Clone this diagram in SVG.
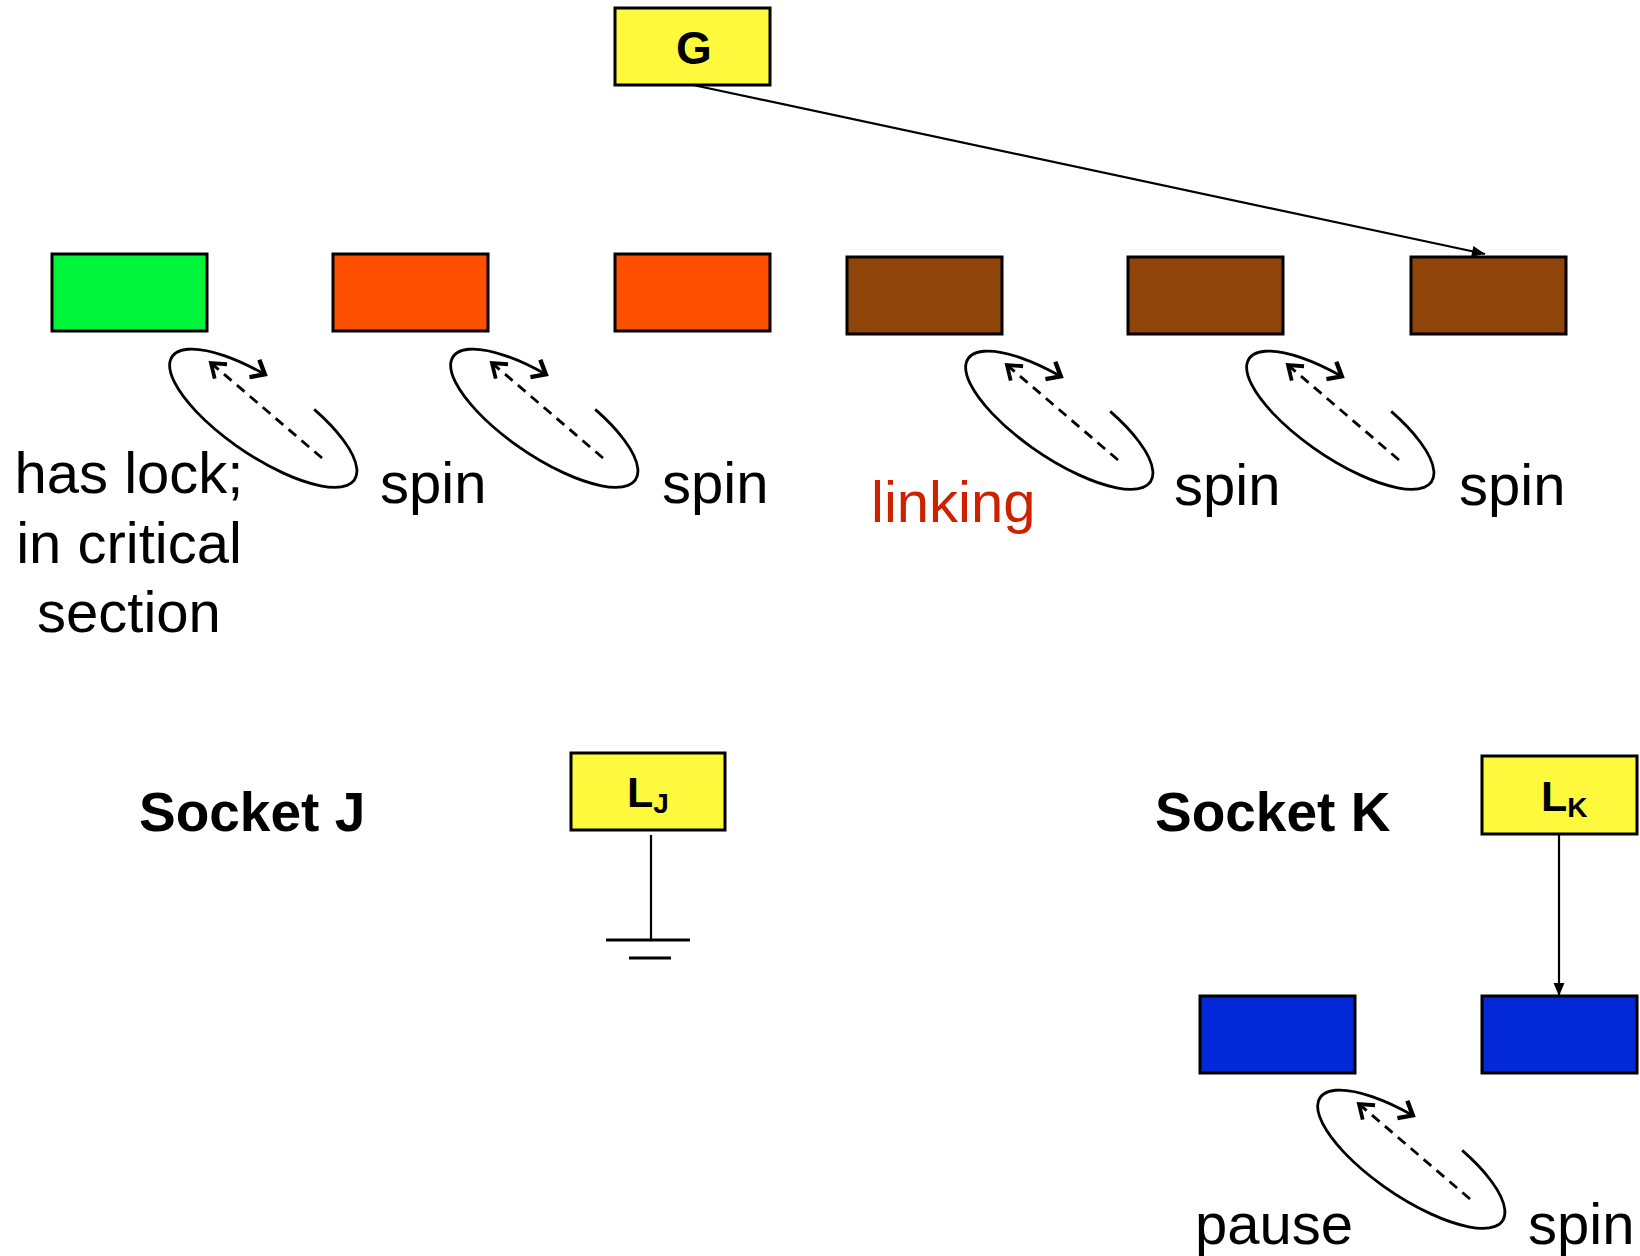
<svg xmlns="http://www.w3.org/2000/svg" width="1640" height="1256" viewBox="0 0 1640 1256">
<style>
.box{stroke:#000;stroke-width:3}
.yellow{fill:#fff93d}
.green{fill:#00f53a}
.orange{fill:#ff4f00}
.brown{fill:#8f450a}
.blue{fill:#0228d8}
.lbl{font-family:"Liberation Sans",Arial,sans-serif;font-size:58px;fill:#000}
.bold{font-family:"Liberation Sans",Arial,sans-serif;font-weight:bold;fill:#000}
.conn{stroke:#000;stroke-width:2.2;fill:none}
.loop{stroke:#000;stroke-width:2.8;fill:none}
.dash{stroke:#000;stroke-width:2.8;stroke-dasharray:10 7;fill:none}
</style>
<defs>
<marker id="tri" markerUnits="userSpaceOnUse" markerWidth="16" markerHeight="12" viewBox="-13 -6 14 12" refX="0" refY="0" orient="auto">
<path d="M-13,-5.5 L0,0 L-13,5.5 Z" fill="#000"/>
</marker>
<marker id="chev" markerUnits="userSpaceOnUse" markerWidth="26" markerHeight="26" viewBox="-17 -13 21 26" refX="0" refY="0" orient="auto">
<path d="M-12,-10 L0,0 L-12,10" fill="none" stroke="#000" stroke-width="4.4" stroke-linejoin="miter"/>
</marker>
<marker id="chevs" markerUnits="userSpaceOnUse" markerWidth="26" markerHeight="26" viewBox="-17 -13 21 26" refX="0" refY="0" orient="auto">
<path d="M-13,-9.5 L0,0 L-13,9.5" fill="none" stroke="#000" stroke-width="3.8" stroke-linejoin="miter"/>
</marker>
<g id="spinloop">
<path class="loop" d="M314.2,409.4 A110,38 34 1 1 264.8,374.4" marker-end="url(#chev)"/>
<path class="dash" d="M322,458 L211,363" marker-end="url(#chevs)"/>
</g>
</defs>

<g id="connectors">
<line class="conn" x1="693" y1="85" x2="1485" y2="254" marker-end="url(#tri)"/>
<line class="conn" x1="1559" y1="834" x2="1559" y2="996" marker-end="url(#tri)"/>
<line class="conn" x1="651" y1="835" x2="651" y2="940"/>
<line x1="606" y1="940" x2="690" y2="940" stroke="#000" stroke-width="3"/>
<line x1="629" y1="958" x2="671" y2="958" stroke="#000" stroke-width="3"/>
</g>

<g id="loops">
<use href="#spinloop"/>
<use href="#spinloop" transform="translate(281,0)"/>
<use href="#spinloop" transform="translate(796,2)"/>
<use href="#spinloop" transform="translate(1077,2)"/>
<use href="#spinloop" transform="translate(1148,741)"/>
</g>

<g id="node-G">
<rect class="box yellow" x="615" y="8" width="155" height="77"/>
<text class="bold" x="694" y="64" font-size="46" text-anchor="middle">G</text>
</g>
<g id="node-green"><rect class="box green" x="52" y="254" width="155" height="77"/></g>
<g id="node-orange1"><rect class="box orange" x="333" y="254" width="155" height="77"/></g>
<g id="node-orange2"><rect class="box orange" x="615" y="254" width="155" height="77"/></g>
<g id="node-brown1"><rect class="box brown" x="847" y="257" width="155" height="77"/></g>
<g id="node-brown2"><rect class="box brown" x="1128" y="257" width="155" height="77"/></g>
<g id="node-brown3"><rect class="box brown" x="1411" y="257" width="155" height="77"/></g>

<g id="node-LJ">
<rect class="box yellow" x="571" y="753" width="154" height="77"/>
<text class="bold" x="627" y="807" font-size="43">L<tspan font-size="28" dy="6">J</tspan></text>
</g>
<g id="node-LK">
<rect class="box yellow" x="1482" y="756" width="155" height="78"/>
<text class="bold" x="1541" y="811" font-size="43">L<tspan font-size="28" dy="6">K</tspan></text>
</g>
<g id="node-blue1"><rect class="box blue" x="1200" y="996" width="155" height="77"/></g>
<g id="node-blue2"><rect class="box blue" x="1482" y="996" width="155" height="77"/></g>

<g id="labels">
<text class="lbl" x="129" y="493" text-anchor="middle">has lock;</text>
<text class="lbl" x="129" y="563" text-anchor="middle">in critical</text>
<text class="lbl" x="129" y="632" text-anchor="middle">section</text>
<text class="lbl" x="380" y="503">spin</text>
<text class="lbl" x="662" y="503">spin</text>
<text class="lbl" x="871" y="522" style="fill:#cc2200">linking</text>
<text class="lbl" x="1174" y="505">spin</text>
<text class="lbl" x="1459" y="505">spin</text>
<text class="bold" x="139" y="831" font-size="55">Socket J</text>
<text class="bold" x="1155" y="831" font-size="55">Socket K</text>
<text class="lbl" x="1195" y="1244">pause</text>
<text class="lbl" x="1528" y="1244">spin</text>
</g>
</svg>
